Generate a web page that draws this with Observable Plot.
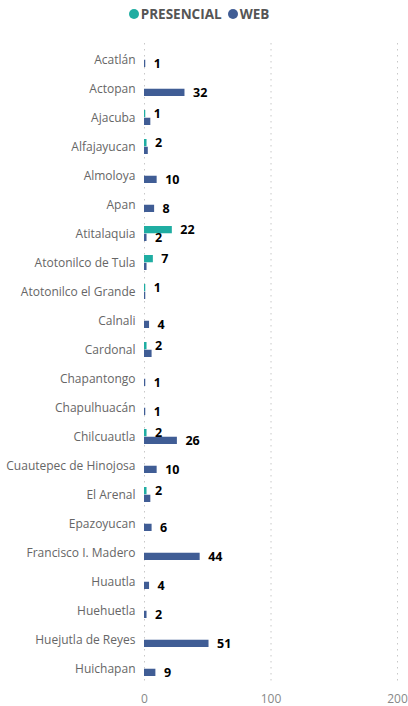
<!DOCTYPE html>
<html>
<head>
<meta charset="utf-8">
<script src="https://cdn.jsdelivr.net/npm/d3@7"></script>
<script src="https://cdn.jsdelivr.net/npm/@observablehq/plot@0.6"></script>
<style>
  body { margin: 0; background: #fff; font-family: "Open Sans", sans-serif; }
  #legend { height: 28px; display: flex; justify-content: center; align-items: center; padding-right: 10px; box-sizing: border-box;
            font-weight: 700; font-size: 13.5px; color: #555; }
  #legend .item { display: flex; align-items: center; margin: 0 3px; }
  #legend .dot { width: 10px; height: 10px; border-radius: 50%; display: inline-block; margin-right: 2px; }
  #chart svg { display: block; }
</style>
</head>
<body>
<div id="legend"></div>
<div id="chart"></div>
<script>
const categories = [
  "Acatlán", "Actopan", "Ajacuba", "Alfajayucan", "Almoloya", "Apan", "Atitalaquia",
  "Atotonilco de Tula", "Atotonilco el Grande", "Calnali", "Cardonal", "Chapantongo",
  "Chapulhuacán", "Chilcuautla", "Cuautepec de Hinojosa", "El Arenal", "Epazoyucan",
  "Francisco I. Madero", "Huautla", "Huehuetla", "Huejutla de Reyes", "Huichapan"
];
const presencial = [null, null, 1, 2, null, null, 22, 7, 1, null, 2, null, null, 2, null, 2, null, null, null, null, null, null];
const web        = [1, 32, 5, 3, 10, 8, 2, 2, 1, 4, 6, 1, 1, 26, 10, 5, 6, 44, 4, 2, 51, 9];
const seriesNames = ["PRESENCIAL", "WEB"];
const seriesColors = ["#1FADA2", "#405D95"];
const xTicks = [0, 100, 200];

// legend
const legend = document.getElementById("legend");
seriesNames.forEach((s, i) => {
  const item = document.createElement("span");
  item.className = "item";
  item.innerHTML = `<span class="dot" style="background:${seriesColors[i]}"></span>${s}`;
  legend.appendChild(item);
});

const presRows = [], webRows = [];
categories.forEach((c, i) => {
  if (presencial[i] != null) presRows.push({cat: c, value: presencial[i], label: true});
  if (web[i] != null) {
    const hide = presencial[i] != null && Math.abs(presencial[i] - web[i]) < 10;
    webRows.push({cat: c, value: web[i], label: !hide});
  }
});

const width = 408, height = 678;
const marginTop = 15, marginBottom = 21;
const paddingInner = 0.47;
const step = (height - marginTop - marginBottom) / categories.length;
const half = step * (1 - paddingInner) / 2;

const chart = Plot.plot({
  width, height,
  marginLeft: 144, marginRight: 11, marginTop, marginBottom,
  style: { fontFamily: "Open Sans, sans-serif", fontSize: "12px", background: "#fff" },
  x: { domain: [0, 200] },
  y: { domain: categories, paddingInner, paddingOuter: paddingInner / 2 },
  marks: [
    Plot.ruleX(xTicks, { stroke: "#c8c8c8", strokeDasharray: "1.5,4.5" }),
    Plot.barX(presRows, { x: "value", y: "cat", fill: seriesColors[0], insetBottom: half }),
    Plot.barX(webRows, { x: "value", y: "cat", fill: seriesColors[1], insetTop: half }),
    Plot.text(presRows.filter(d => d.label), { x: "value", y: "cat", text: d => String(d.value), dy: -half / 2,
      dx: 8, textAnchor: "start", fontWeight: "bold", fill: "#000", fontSize: 12.5 }),
    Plot.text(webRows.filter(d => d.label), { x: "value", y: "cat", text: d => String(d.value), dy: half / 2,
      dx: 8, textAnchor: "start", fontWeight: "bold", fill: "#000", fontSize: 12.5 }),
    Plot.axisY({ tickSize: 0, tickPadding: 9, fontSize: 12, fill: "#666", label: null }),
    Plot.axisX(xTicks, { tickSize: 0, tickPadding: 9, fontSize: 12, fill: "#888", label: null })
  ]
});
document.getElementById("chart").appendChild(chart);
</script>
</body>
</html>
